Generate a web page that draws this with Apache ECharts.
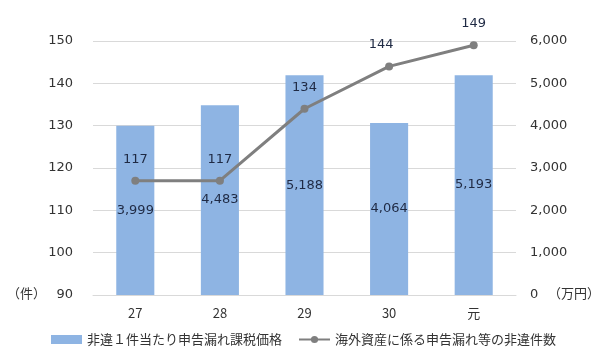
<!DOCTYPE html>
<html><head><meta charset="utf-8">
<script src="https://cdn.jsdelivr.net/npm/echarts@6/dist/echarts.min.js"></script>
<style>html,body{margin:0;padding:0;background:#fff}#c{width:612px;height:362px}</style>
</head><body><div id="c"></div>
<script>
const categories = ['27', '28', '29', '30', '元'];
const amountValues = [3999, 4483, 5188, 4064, 5193];
const countValues = [117, 117, 134, 144, 149];
const barName = '非違１件当たり申告漏れ課税価格';
const lineName = '海外資産に係る申告漏れ等の非違件数';
const leftUnit = '（件）';
const rightUnit = '（万円）';

const font = 'DejaVu Sans, Noto Sans CJK JP, sans-serif';
const cjk = 'Noto Sans CJK JP, sans-serif';
const chart = echarts.init(document.getElementById('c'), null, {renderer: 'canvas'});
chart.setOption({
  animation: false,
  backgroundColor: '#fff',
  grid: {left: 93, right: 96, top: 41, bottom: 67},
  legend: {
    left: 46, top: 328, itemGap: 16, itemWidth: 31, itemHeight: 9,
    textStyle: {fontFamily: cjk, fontSize: 13, color: '#333'},
    data: [{name: barName, icon: 'rect'}, {name: lineName}]
  },
  xAxis: {
    type: 'category', data: categories,
    axisLine: {show: true, lineStyle: {color: '#d9d9d9', width: 1}},
    axisTick: {show: false},
    axisLabel: {color: '#333', fontFamily: cjk, fontSize: 13, margin: 12}
  },
  yAxis: [
    {type: 'value', min: 90, max: 150, interval: 10,
     axisLine: {show: false}, axisTick: {show: false},
     splitLine: {lineStyle: {color: '#d9d9d9', width: 1}},
     axisLabel: {color: '#333', fontFamily: font, fontSize: 13, margin: 20}},
    {type: 'value', min: 0, max: 6000, interval: 1000,
     axisLine: {show: false}, axisTick: {show: false}, splitLine: {show: false},
     axisLabel: {color: '#333', fontFamily: font, fontSize: 13, margin: 14,
       formatter: v => v.toLocaleString('en-US')}}
  ],
  graphic: [
    {type: 'text', left: 7, top: 287, style: {text: leftUnit, font: '13px ' + cjk, fill: '#333'}},
    {type: 'text', left: 548, top: 287, style: {text: rightUnit, font: '13px ' + cjk, fill: '#333'}}
  ],
  series: [
    {name: barName, type: 'bar', yAxisIndex: 1, data: amountValues, barWidth: '45%',
     itemStyle: {color: '#8eb4e3'},
     label: {show: true, position: 'inside', color: '#1f2a44', fontFamily: font, fontSize: 13,
       formatter: p => p.value.toLocaleString('en-US')}},
    {name: lineName, type: 'line', yAxisIndex: 0,
     data: countValues.map((v, i) => i === 3 ? {value: v, label: {offset: [-8, 0]}} : v),
     symbol: 'circle', symbolSize: 8,
     lineStyle: {color: '#7f7f7f', width: 3}, itemStyle: {color: '#7f7f7f'},
     label: {show: true, position: 'top', distance: 11, color: '#1f2a44', fontFamily: font, fontSize: 13}}
  ]
});
</script></body></html>
